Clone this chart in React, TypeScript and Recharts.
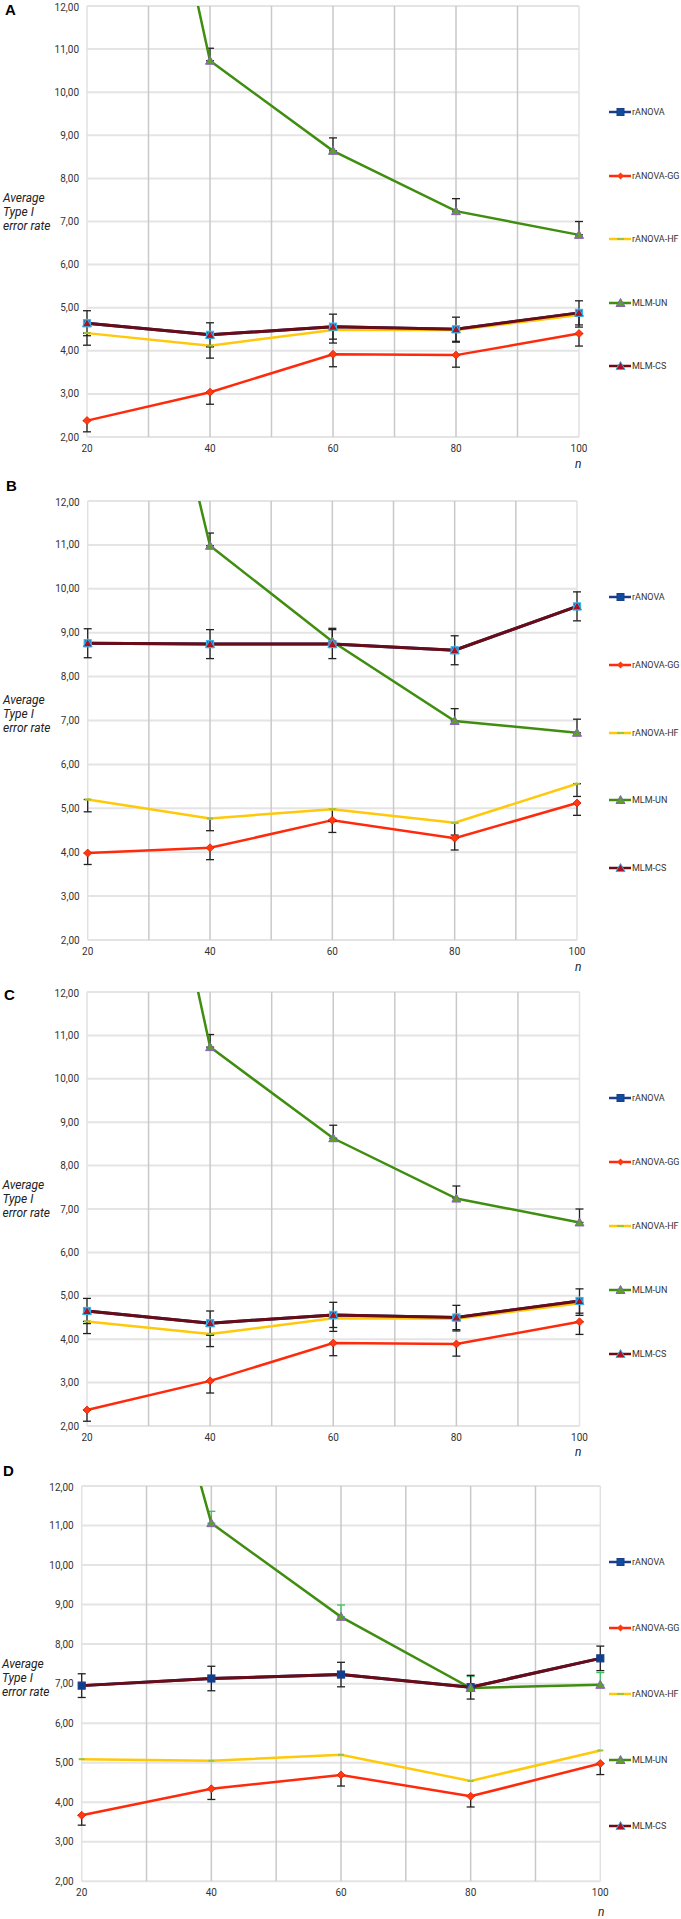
import React from 'react'
import { LineChart, Line, XAxis, YAxis, CartesianGrid, ReferenceLine, ErrorBar } from 'recharts'

const N_VALUES = [20, 40, 60, 80, 100]
const X_TICKS = [20, 40, 60, 80, 100]
const X_GRID = [30, 40, 50, 60, 70, 80, 90]
const Y_TICKS = [2, 3, 4, 5, 6, 7, 8, 9, 10, 11, 12]
const SERIES_NAMES = ['rANOVA', 'rANOVA-GG', 'rANOVA-HF', 'MLM-UN', 'MLM-CS']

// panel A
const A_RANOVA = [4.64, 4.37, 4.56, 4.5, 4.88]
const A_GG = [2.38, 3.04, 3.92, 3.9, 4.4]
const A_HF = [4.41, 4.12, 4.48, 4.48, 4.83]
const A_UN = [23.8, 10.73, 8.64, 7.24, 6.69]
const A_CS = [4.64, 4.37, 4.56, 4.5, 4.88]
const A_GG_ERR = [0.26, 0.28, 0.29, 0.28, 0.29]
const A_HF_ERR = [0.28, 0.29, 0.3, 0.28, 0.28]
const A_UN_ERR = [0, 0.29, 0.3, 0.29, 0.31]
const A_CS_ERR = [0.29, 0.28, 0.29, 0.28, 0.28]

// panel B
const B_RANOVA = [8.76, 8.74, 8.74, 8.6, 9.6]
const B_GG = [3.98, 4.1, 4.73, 4.32, 5.12]
const B_HF = [5.2, 4.77, 4.98, 4.67, 5.56]
const B_UN = [22.6, 10.98, 8.8, 6.99, 6.72]
const B_CS = [8.76, 8.74, 8.74, 8.6, 9.6]
const B_GG_ERR = [0.26, 0.27, 0.28, 0.27, 0.28]
const B_HF_ERR = [0.28, 0.28, 0.28, 0.28, 0.29]
const B_UN_ERR = [0, 0.29, 0.3, 0.28, 0.31]
const B_CS_ERR = [0.33, 0.33, 0.33, 0.33, 0.33]

// panel C
const C_RANOVA = [4.65, 4.37, 4.56, 4.5, 4.88]
const C_GG = [2.37, 3.04, 3.91, 3.89, 4.4]
const C_HF = [4.41, 4.12, 4.48, 4.47, 4.83]
const C_UN = [23.8, 10.73, 8.63, 7.24, 6.69]
const C_CS = [4.65, 4.37, 4.56, 4.5, 4.88]
const C_GG_ERR = [0.26, 0.28, 0.29, 0.28, 0.29]
const C_HF_ERR = [0.28, 0.29, 0.3, 0.28, 0.28]
const C_UN_ERR = [0, 0.29, 0.3, 0.29, 0.31]
const C_CS_ERR = [0.29, 0.28, 0.29, 0.28, 0.28]

// panel D
const D_RANOVA = [6.95, 7.13, 7.23, 6.91, 7.64]
const D_GG = [3.67, 4.34, 4.69, 4.15, 4.98]
const D_HF = [5.09, 5.05, 5.2, 4.54, 5.31]
const D_UN = [22.8, 11.06, 8.69, 6.89, 6.97]
const D_CS = [6.95, 7.13, 7.23, 6.91, 7.64]
const D_GG_ERR = [0.25, 0.27, 0.28, 0.27, 0.28]
const D_HF_ERR = [0, 0, 0, 0, 0]
const D_UN_ERR = [0, 0.3, 0.3, 0.29, 0.31]
const D_CS_ERR = [0.3, 0.31, 0.31, 0.3, 0.31]

const COLORS = {
  ranova: '#1c3d8a',
  gg: '#ff2a0c',
  hf: '#ffc90a',
  un: '#3f8e10',
  cs: '#6a0b15',
}

// GG and HF only have minus bars, UN only plus bars, CS both
const makeRows = (
  ranova: number[], gg: number[], hf: number[], un: number[], cs: number[],
  ggErr: number[], hfErr: number[], unErr: number[], csErr: number[],
) =>
  N_VALUES.map((n, i) => ({
    n,
    ranova: ranova[i],
    gg: gg[i],
    hf: hf[i],
    un: un[i],
    cs: cs[i],
    ggErr: [ggErr[i], 0],
    hfErr: [hfErr[i], 0],
    unErr: [0, unErr[i]],
    csErr: csErr[i],
  }))

const fmt = (v: number) => v.toFixed(2).replace('.', ',')

function squareDot(fill: string, stroke: string) {
  return (p: any) => {
    if (p.cx == null || p.cy == null) return <g key={p.index} />
    return <rect key={p.index} x={p.cx - 3.5} y={p.cy - 3.5} width={7} height={7} fill={fill} stroke={stroke} strokeWidth={1.2} />
  }
}

function diamondDot(fill: string) {
  return (p: any) => {
    if (p.cx == null || p.cy == null) return <g key={p.index} />
    const { cx, cy } = p
    return <polygon key={p.index} points={`${cx},${cy - 4} ${cx + 4},${cy} ${cx},${cy + 4} ${cx - 4},${cy}`} fill={fill} stroke="#e01e00" strokeWidth={0.8} />
  }
}

function triangleDot(fill: string, stroke: string) {
  return (p: any) => {
    if (p.cx == null || p.cy == null) return <g key={p.index} />
    const { cx, cy } = p
    return <polygon key={p.index} points={`${cx},${cy - 4.5} ${cx + 4.5},${cy + 3.5} ${cx - 4.5},${cy + 3.5}`} fill={fill} stroke={stroke} strokeWidth={1} />
  }
}

function dashDot(p: any) {
  if (p.cx == null || p.cy == null) return <g key={p.index} />
  return <line key={p.index} x1={p.cx - 3} x2={p.cx + 3} y1={p.cy} y2={p.cy} stroke="#9cc43c" strokeWidth={2} />
}

function LegendIcon({ i }: { i: number }) {
  const c = [COLORS.ranova, COLORS.gg, COLORS.hf, COLORS.un, COLORS.cs][i]
  return (
    <svg width={22} height={10} style={{ display: 'block' }}>
      <line x1={0} x2={22} y1={5} y2={5} stroke={c} strokeWidth={2.5} />
      {i === 0 && <rect x={8} y={1.5} width={7} height={7} fill="#0f4c9c" stroke="#1c3d8a" />}
      {i === 1 && <polygon points="11.5,1.5 15,5 11.5,8.5 8,5" fill="#ff3a10" />}
      {i === 2 && <line x1={8} x2={15} y1={5} y2={5} stroke="#9cc43c" strokeWidth={2} />}
      {i === 3 && <polygon points="11.5,0.5 16,8.5 7,8.5" fill="#5aa02a" stroke="#8a5fb8" />}
      {i === 4 && <polygon points="11.5,0.5 16,8.5 7,8.5" fill="#b01020" stroke="#30b0e8" />}
    </svg>
  )
}

interface PanelLayout {
  letter: string
  letterX: number
  letterY: number
  plotTop: number
  plotBottom: number
  plotLeft: number
  plotRight: number
  labelX: number
  labelY: number
  nX: number
  nY: number
  legendY: number
  legendGap: number
  csDots: boolean
  hfErrors: boolean
  unErrColor: string
}

function Panel({ rows, L }: { rows: any[]; L: PanelLayout }) {
  const marginTop = 4
  const xAxisH = 30
  const h = L.plotBottom - L.plotTop + marginTop + xAxisH
  const textStyle: React.CSSProperties = { position: 'absolute', fontFamily: 'Roboto', color: '#222' }
  return (
    <>
      <div style={{ ...textStyle, left: L.letterX, top: L.letterY - 9, fontSize: 15, fontWeight: 'bold', fontFamily: 'Liberation Sans', color: '#000' }}>
        {L.letter}
      </div>
      <div style={{ ...textStyle, left: L.labelX, top: L.labelY - 7, fontSize: 12, fontStyle: 'italic', lineHeight: '14.2px' }}>
        Average<br />Type I<br />error rate
      </div>
      <div style={{ ...textStyle, left: L.nX - 3, top: L.nY - 8, fontSize: 12, fontStyle: 'italic' }}>n</div>
      <div style={{ position: 'absolute', left: 0, top: L.plotTop - marginTop }}>
        <LineChart
          width={681}
          height={h}
          data={rows}
          margin={{ top: marginTop, right: 681 - L.plotRight, bottom: 0, left: 0 }}
        >
          <CartesianGrid vertical={false} stroke="#e4e4e4" strokeWidth={2} />
          <ReferenceLine x={20} stroke="#e2e2e2" strokeWidth={1.5} />
          <ReferenceLine x={100} stroke="#e2e2e2" strokeWidth={1.5} />
          {X_GRID.map((v) => (
            <ReferenceLine key={v} x={v} stroke="#c9c9c9" strokeWidth={1.5} />
          ))}
          <XAxis
            type="number"
            dataKey="n"
            domain={[20, 100]}
            ticks={X_TICKS}
            height={xAxisH}
            axisLine={false}
            tickLine={false}
            tick={{ fontSize: 10, fill: '#333', fontFamily: 'Roboto' }}
          />
          <YAxis
            type="number"
            domain={[2, 12]}
            ticks={Y_TICKS}
            allowDataOverflow
            width={L.plotLeft}
            axisLine={false}
            tickLine={false}
            tickFormatter={fmt}
            tick={{ fontSize: 10, fill: '#333', fontFamily: 'Roboto' }}
          />
          <Line
            dataKey="ranova"
            name={SERIES_NAMES[0]}
            stroke={COLORS.ranova}
            strokeWidth={3}
            dot={L.csDots ? squareDot('#1f63b4', '#3cb4ea') : squareDot('#0f3f8f', '#1c3d8a')}
            isAnimationActive={false}
          />
          <Line
            dataKey="gg"
            name={SERIES_NAMES[1]}
            stroke={COLORS.gg}
            strokeWidth={2.5}
            dot={diamondDot('#ff3a10')}
            isAnimationActive={false}
          >
            <ErrorBar dataKey="ggErr" width={4} strokeWidth={1.3} stroke="#222" direction="y" isAnimationActive={false} />
          </Line>
          <Line
            dataKey="hf"
            name={SERIES_NAMES[2]}
            stroke={COLORS.hf}
            strokeWidth={2.5}
            dot={dashDot}
            isAnimationActive={false}
          >
            {L.hfErrors && <ErrorBar dataKey="hfErr" width={4} strokeWidth={1.3} stroke="#222" direction="y" isAnimationActive={false} />}
          </Line>
          <Line
            dataKey="un"
            name={SERIES_NAMES[3]}
            stroke={COLORS.un}
            strokeWidth={2.5}
            dot={triangleDot('#5aa02a', '#8a5fb8')}
            isAnimationActive={false}
          >
            <ErrorBar dataKey="unErr" width={4} strokeWidth={1.3} stroke={L.unErrColor} direction="y" isAnimationActive={false} />
          </Line>
          <Line
            dataKey="cs"
            name={SERIES_NAMES[4]}
            stroke={COLORS.cs}
            strokeWidth={3}
            dot={L.csDots ? triangleDot('#b01020', '#30b0e8') : false}
            isAnimationActive={false}
          >
            <ErrorBar dataKey="csErr" width={4} strokeWidth={1.3} stroke="#222" direction="y" isAnimationActive={false} />
          </Line>
        </LineChart>
      </div>
      {SERIES_NAMES.map((name, i) => (
        <div
          key={name}
          style={{ position: 'absolute', left: 609, top: L.legendY + i * L.legendGap - 6, height: 12, display: 'flex', alignItems: 'center' }}
        >
          <LegendIcon i={i} />
          <span style={{ fontFamily: 'Roboto', fontSize: 9, color: '#333', marginLeft: 1, whiteSpace: 'nowrap' }}>{name}</span>
        </div>
      ))}
    </>
  )
}

const LAYOUT_A: PanelLayout = {
  letter: 'A', letterX: 5, letterY: 10, plotTop: 6, plotBottom: 437, plotLeft: 87, plotRight: 579,
  labelX: 3, labelY: 198, nX: 578, nY: 465, legendY: 112, legendGap: 63.6,
  csDots: true, hfErrors: true, unErrColor: '#222',
}
const LAYOUT_B: PanelLayout = {
  letter: 'B', letterX: 6, letterY: 486, plotTop: 500.7, plotBottom: 939.7, plotLeft: 87.7, plotRight: 577,
  labelX: 3, labelY: 700, nX: 578, nY: 968, legendY: 597, legendGap: 67.8,
  csDots: true, hfErrors: true, unErrColor: '#222',
}
const LAYOUT_C: PanelLayout = {
  letter: 'C', letterX: 4, letterY: 995, plotTop: 992, plotBottom: 1426, plotLeft: 87, plotRight: 579.5,
  labelX: 2.5, labelY: 1185, nX: 578, nY: 1453, legendY: 1098, legendGap: 64,
  csDots: true, hfErrors: true, unErrColor: '#222',
}
const LAYOUT_D: PanelLayout = {
  letter: 'D', letterX: 3, letterY: 1471, plotTop: 1485.7, plotBottom: 1881, plotLeft: 81.7, plotRight: 600.3,
  labelX: 2, labelY: 1664, nX: 601, nY: 1913, legendY: 1562, legendGap: 66,
  csDots: false, hfErrors: false, unErrColor: '#3cc060',
}

export default function App() {
  const rowsA = makeRows(A_RANOVA, A_GG, A_HF, A_UN, A_CS, A_GG_ERR, A_HF_ERR, A_UN_ERR, A_CS_ERR)
  const rowsB = makeRows(B_RANOVA, B_GG, B_HF, B_UN, B_CS, B_GG_ERR, B_HF_ERR, B_UN_ERR, B_CS_ERR)
  const rowsC = makeRows(C_RANOVA, C_GG, C_HF, C_UN, C_CS, C_GG_ERR, C_HF_ERR, C_UN_ERR, C_CS_ERR)
  const rowsD = makeRows(D_RANOVA, D_GG, D_HF, D_UN, D_CS, D_GG_ERR, D_HF_ERR, D_UN_ERR, D_CS_ERR)

  return (
    <div style={{ position: 'relative', width: 681, height: 1919, background: '#fff', overflow: 'hidden' }}>
      <style>{'body { margin: 0; }'}</style>
      <Panel rows={rowsA} L={LAYOUT_A} />
      <Panel rows={rowsB} L={LAYOUT_B} />
      <Panel rows={rowsC} L={LAYOUT_C} />
      <Panel rows={rowsD} L={LAYOUT_D} />
    </div>
  )
}
